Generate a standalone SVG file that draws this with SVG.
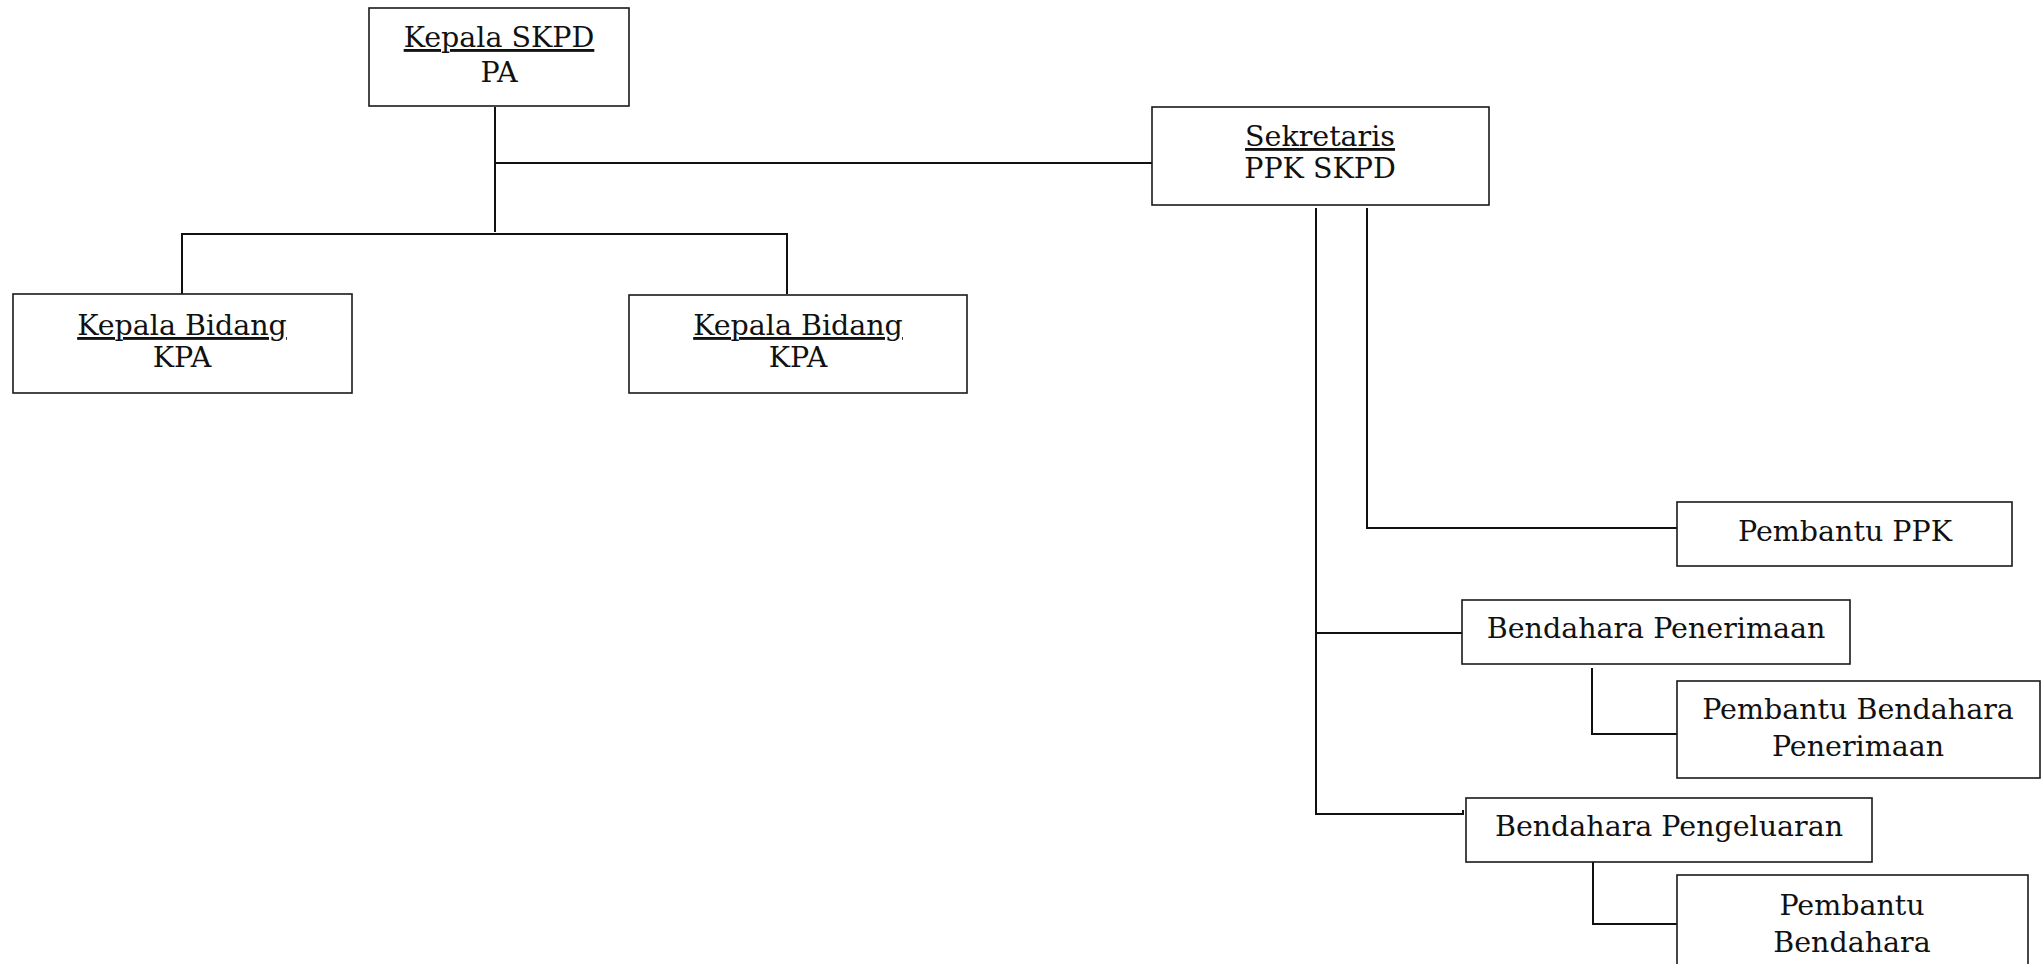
<svg xmlns="http://www.w3.org/2000/svg" width="2041" height="964" viewBox="0 0 2041 964">
<style>
.box{fill:#fff;stroke:#1a1a1a;stroke-width:1.6}
.t{font-family:"DejaVu Serif","Liberation Serif",serif;font-size:28.5px;fill:#111;text-anchor:middle}
.u{text-decoration:underline;text-decoration-skip-ink:none}
.c{fill:none;stroke:#111;stroke-width:2}
</style>
<rect width="2041" height="964" fill="#fff"/>
<g id="connectors">
<polyline class="c" points="495,107 495,232"/>
<polyline class="c" points="495,163 1152,163"/>
<polyline class="c" points="182,294 182,234 787,234 787,294"/>
<polyline class="c" points="1367,208 1367,528 1677,528"/>
<polyline class="c" points="1316,208 1316,814 1463,814 1463,810"/>
<polyline class="c" points="1316,633 1462,633"/>
<polyline class="c" points="1592,668 1592,734 1677,734"/>
<polyline class="c" points="1593,862 1593,924 1677,924"/>
</g>
<g id="kepala-skpd">
<rect class="box" x="369" y="8" width="260" height="98"/>
<text class="t" x="499" y="47"><tspan class="u">Kepala SKPD</tspan></text>
<text class="t" x="499" y="82">PA</text>
</g>
<g id="kepala-bidang-1">
<rect class="box" x="13" y="294" width="339" height="99"/>
<text class="t" x="182" y="335"><tspan class="u">Kepala Bidang</tspan></text>
<text class="t" x="182" y="367">KPA</text>
</g>
<g id="kepala-bidang-2">
<rect class="box" x="629" y="295" width="338" height="98"/>
<text class="t" x="798" y="335"><tspan class="u">Kepala Bidang</tspan></text>
<text class="t" x="798" y="367">KPA</text>
</g>
<g id="sekretaris">
<rect class="box" x="1152" y="107" width="337" height="98"/>
<text class="t" x="1320" y="146"><tspan class="u">Sekretaris</tspan></text>
<text class="t" x="1320" y="178">PPK SKPD</text>
</g>
<g id="pembantu-ppk">
<rect class="box" x="1677" y="502" width="335" height="64"/>
<text class="t" x="1845" y="541">Pembantu PPK</text>
</g>
<g id="bendahara-penerimaan">
<rect class="box" x="1462" y="600" width="388" height="64"/>
<text class="t" x="1656" y="638">Bendahara Penerimaan</text>
</g>
<g id="pembantu-bendahara-penerimaan">
<rect class="box" x="1677" y="681" width="363" height="97"/>
<text class="t" x="1858" y="719">Pembantu Bendahara</text>
<text class="t" x="1858" y="756">Penerimaan</text>
</g>
<g id="bendahara-pengeluaran">
<rect class="box" x="1466" y="798" width="406" height="64"/>
<text class="t" x="1669" y="836">Bendahara Pengeluaran</text>
</g>
<g id="pembantu-bendahara">
<rect class="box" x="1677" y="875" width="351" height="100"/>
<text class="t" x="1852" y="915">Pembantu</text>
<text class="t" x="1852" y="952">Bendahara</text>
</g>
</svg>
